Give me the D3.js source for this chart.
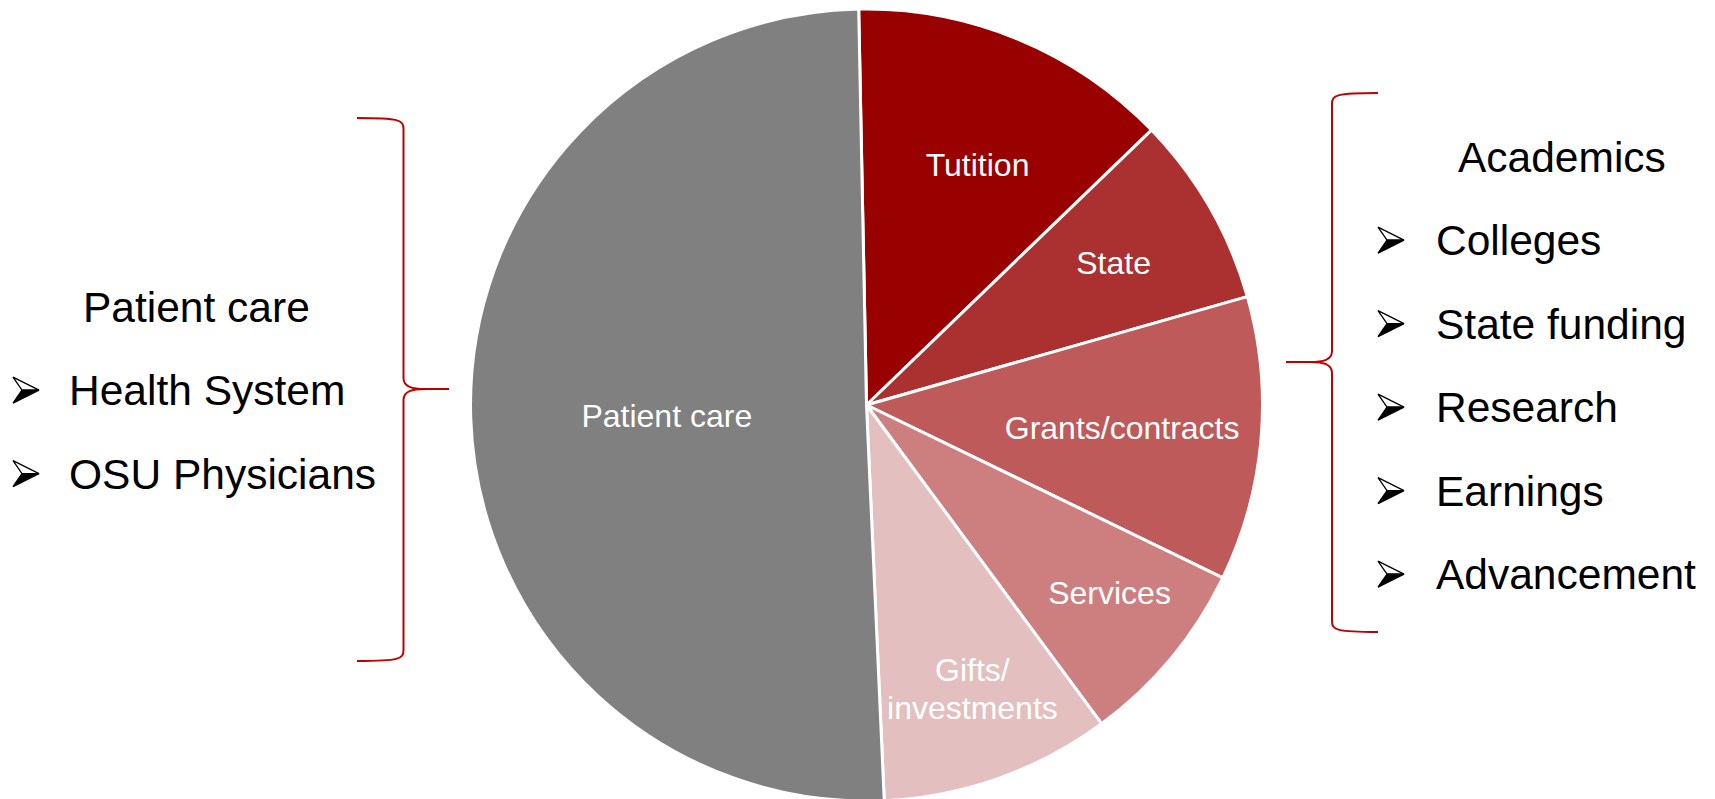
<!DOCTYPE html>
<html>
<head>
<meta charset="utf-8">
<script src="https://cdn.jsdelivr.net/npm/d3@7"></script>
<style>
  html, body { margin: 0; padding: 0; background: #ffffff; }
  svg { display: block; }
  text { font-family: "Liberation Sans", Arial, Helvetica, sans-serif; }
</style>
</head>
<body>
<svg id="chart" width="1715" height="799"></svg>
<script>
// Revenue sources (share of total, %)
const categories = ["Tutition", "State", "Grants/contracts", "Services", "Gifts/investments", "Patient care"];
const shares = [13.1, 7.8, 11.6, 7.7, 9.4, 50.4];
const sliceLabels = [["Tutition"], ["State"], ["Grants/contracts"], ["Services"], ["Gifts/", "investments"], ["Patient care"]];

// Side groupings
const leftTitle = "Patient care";
const leftItems = ["Health System", "OSU Physicians"];
const rightTitle = "Academics";
const rightItems = ["Colleges", "State funding", "Research", "Earnings", "Advancement"];

// Styling / layout
const sliceColors = ["#990000", "#AB3131", "#BE5A5A", "#CD7F7F", "#E4BFBF", "#808080"];
const labelRadiusFrac = [0.67, 0.72, 0.648, 0.775, 0.764, 0.505];
const labelAngleShift = [2.3, 0, 0, -2.1, -1.0, -1.2]; // degrees, relative to slice middle
const W = 1715, H = 799;
const cx = 866.5, cy = 405, R = 396;
const startDeg = -1.13;
const rad = Math.PI / 180;

const svg = d3.select("#chart");

const pie = d3.pie()
  .sort(null)
  .value(d => d.value)
  .startAngle(startDeg * rad)
  .endAngle(startDeg * rad + 2 * Math.PI);

const data = categories.map((c, i) => ({
  name: c, value: shares[i], lines: sliceLabels[i], color: sliceColors[i],
  lf: labelRadiusFrac[i], shift: labelAngleShift[i]
}));
const arcs = pie(data);

const arc = d3.arc().innerRadius(0).outerRadius(R);

const g = svg.append("g").attr("transform", `translate(${cx},${cy})`);

g.selectAll("path.slice")
  .data(arcs)
  .join("path")
  .attr("class", "slice")
  .attr("d", arc)
  .attr("fill", d => d.data.color)
  .attr("stroke", "#ffffff")
  .attr("stroke-width", 3)
  .attr("stroke-linejoin", "round");

// Slice labels
const fontIn = 32, capIn = fontIn * 0.716, lineIn = 37.5;
const labels = g.selectAll("text.slabel")
  .data(arcs)
  .join("text")
  .attr("class", "slabel")
  .attr("text-anchor", "middle")
  .attr("fill", "#ffffff")
  .attr("font-size", fontIn);

labels.each(function(d) {
  const r = R * d.data.lf;
  const a = (d.startAngle + d.endAngle) / 2 + d.data.shift * rad;
  const x = r * Math.sin(a), y = -r * Math.cos(a);
  const n = d.data.lines.length;
  const first = y + capIn / 2 - (n - 1) * lineIn / 2;
  d3.select(this).selectAll("tspan")
    .data(d.data.lines)
    .join("tspan")
    .attr("x", x)
    .attr("y", (t, i) => first + i * lineIn)
    .text(t => t);
});

// Curly brace: ends at xEnd, spine at xSpine, point at xTip
function brace(xEnd, xSpine, xTip, yTop, yMid, yBot) {
  const s = Math.sign(xTip - xSpine);
  const c = 11, d = 22 * s;
  const p = d3.path();
  p.moveTo(xEnd, yTop);
  p.bezierCurveTo(xSpine - 4 * s, yTop, xSpine, yTop + 2, xSpine, yTop + c);
  p.lineTo(xSpine, yMid - c);
  p.bezierCurveTo(xSpine, yMid - 2, xSpine + d * 0.4, yMid, xSpine + d, yMid);
  p.lineTo(xTip, yMid);
  p.moveTo(xSpine + d, yMid);
  p.bezierCurveTo(xSpine + d * 0.4, yMid, xSpine, yMid + 2, xSpine, yMid + c);
  p.lineTo(xSpine, yBot - c);
  p.bezierCurveTo(xSpine, yBot - 2, xSpine - 4 * s, yBot, xEnd, yBot);
  return p.toString();
}

svg.append("path")
  .attr("d", brace(357, 403.5, 449, 118, 389, 661))
  .attr("fill", "none").attr("stroke", "#C00000").attr("stroke-width", 2);
svg.append("path")
  .attr("d", brace(1378, 1332, 1286, 93, 362, 632))
  .attr("fill", "none").attr("stroke", "#C00000").attr("stroke-width", 2);

// Arrowhead bullet (upper half outlined, lower half solid)
function bullet(sel, x, yc) {
  const w = 26, h = 13, notch = 9;
  const b = sel.append("g").attr("transform", `translate(${x},${yc})`);
  b.append("path")
    .attr("d", `M0,${-h} L${w},0 L${notch},0 Z`)
    .attr("fill", "#ffffff").attr("stroke", "#000000").attr("stroke-width", 1.3).attr("stroke-linejoin", "miter");
  b.append("path")
    .attr("d", `M${notch},0 L${w},0 L0,${h} Z`)
    .attr("fill", "#000000").attr("stroke", "#000000").attr("stroke-width", 1.3).attr("stroke-linejoin", "miter");
}

const fontSide = 42.5, step = 83.5;

function sideList(titleX, titleY, itemX, bulletX, title, items) {
  svg.append("text")
    .attr("x", titleX).attr("y", titleY)
    .attr("font-size", fontSide).attr("fill", "#000000")
    .text(title);
  items.forEach((t, i) => {
    const y = titleY + step * (i + 1);
    bullet(svg, bulletX, y - 15);
    svg.append("text")
      .attr("x", itemX).attr("y", y)
      .attr("font-size", fontSide).attr("fill", "#000000")
      .text(t);
  });
}

sideList(83, 321.6, 69, 13, leftTitle, leftItems);
sideList(1458, 171.7, 1436, 1378, rightTitle, rightItems);
</script>
</body>
</html>
